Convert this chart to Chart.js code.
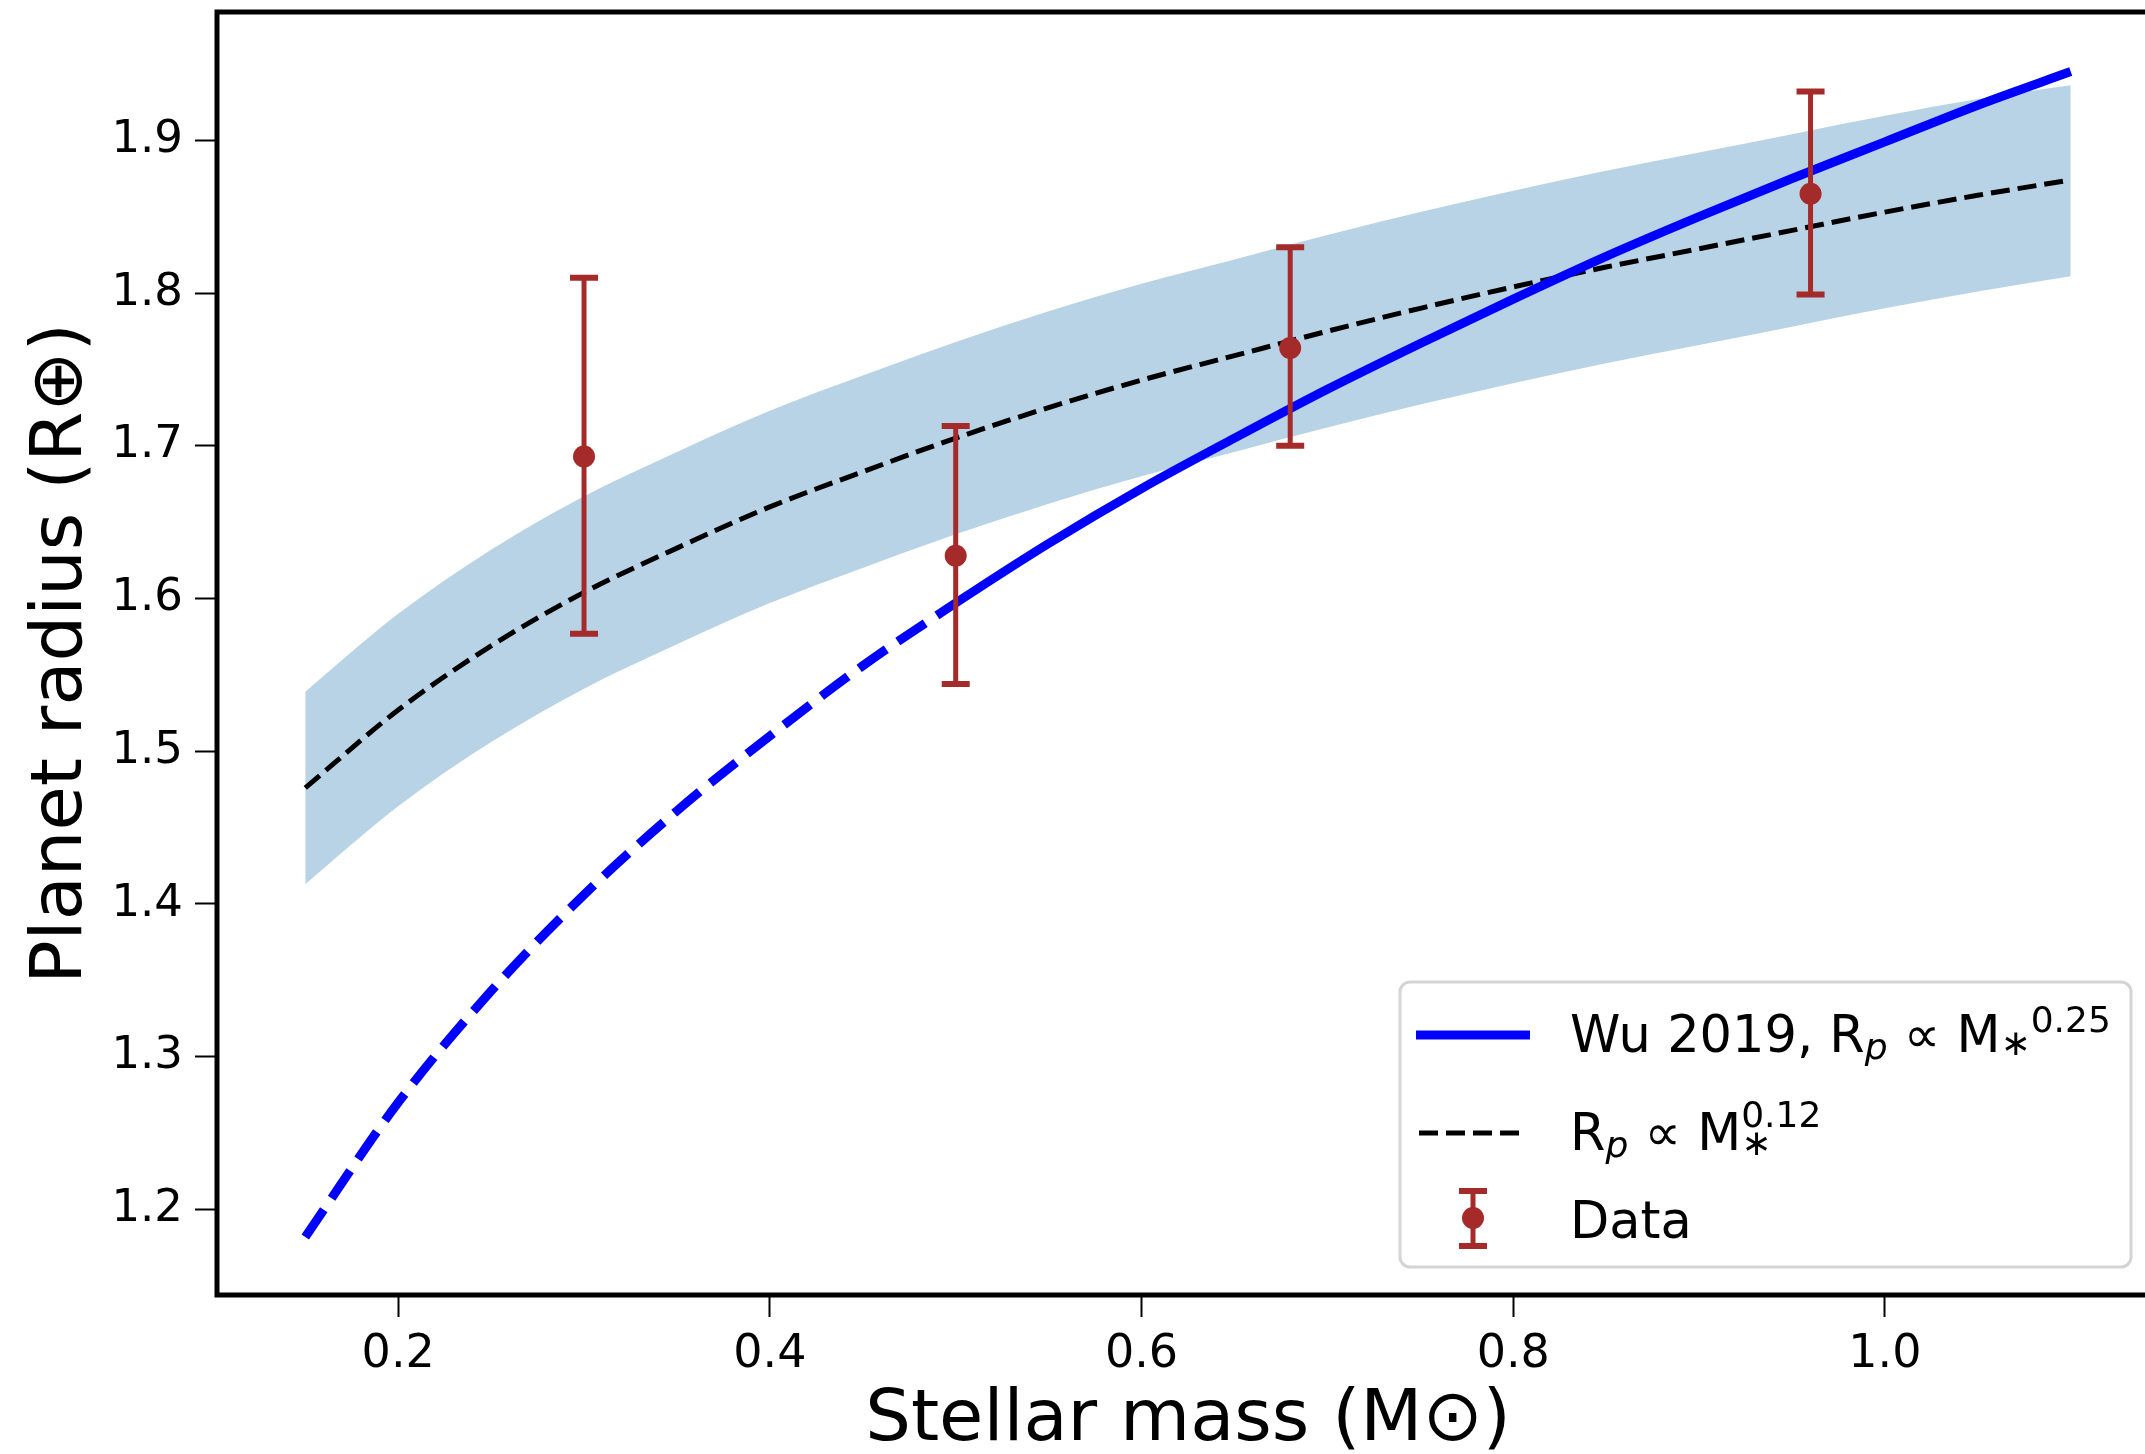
<!DOCTYPE html>
<html>
<head>
<meta charset="utf-8">
<script src="https://cdn.jsdelivr.net/npm/chart.js@4.4.1/dist/chart.umd.min.js"></script>
<style>
  html, body { margin: 0; padding: 0; background: #fff; overflow: hidden; }
  #wrap { width: 2200px; height: 1454px; }
</style>
</head>
<body>
<div id="wrap"><canvas id="radiusChart"></canvas></div>
<script>
// values
const massGrid = [0.15, 0.20, 0.25, 0.30, 0.35, 0.40, 0.45, 0.50, 0.55, 0.60, 0.65, 0.70, 0.75, 0.80, 0.85, 0.90, 0.95, 1.00, 1.05, 1.10];
const wuRadius = [1.182, 1.270, 1.343, 1.406, 1.461, 1.510, 1.556, 1.597, 1.636, 1.672, 1.705, 1.737, 1.767, 1.796, 1.824, 1.850, 1.875, 1.899, 1.923, 1.945];
const fitRadius = [1.476, 1.527, 1.569, 1.604, 1.633, 1.660, 1.683, 1.705, 1.725, 1.743, 1.759, 1.775, 1.790, 1.804, 1.817, 1.829, 1.841, 1.853, 1.864, 1.874];
const bandUpper = [1.539, 1.590, 1.632, 1.667, 1.696, 1.723, 1.746, 1.768, 1.788, 1.806, 1.822, 1.838, 1.853, 1.867, 1.880, 1.892, 1.904, 1.916, 1.927, 1.936];
const bandLower = [1.413, 1.464, 1.506, 1.541, 1.570, 1.597, 1.620, 1.642, 1.662, 1.680, 1.696, 1.712, 1.727, 1.741, 1.754, 1.766, 1.778, 1.790, 1.801, 1.811];

const dataMass = [0.30, 0.50, 0.68, 0.96];
const dataRadius = [1.693, 1.628, 1.764, 1.865];
const dataErrHi = [1.810, 1.713, 1.830, 1.932];
const dataErrLo = [1.577, 1.544, 1.700, 1.799];

const xTicks = [0.2, 0.4, 0.6, 0.8, 1.0];
const yTicks = [1.2, 1.3, 1.4, 1.5, 1.6, 1.7, 1.8, 1.9];

const FONT = '"DejaVu Sans", "Liberation Sans", sans-serif';
const dataColor = '#a52a2a';
const blueDash = [33, 14];
const blackDash = [19, 8];

function pts(xs, ys) {
  return xs.map((x, i) => ({ x: x, y: ys[i] }));
}

// error bars go under the data dots
const errorBarPlugin = {
  id: 'errorBars',
  beforeDatasetDraw(chart, args) {
    if (chart.data.datasets[args.index].label !== 'Data') return;
    const ctx = chart.ctx;
    const xs = chart.scales.x, ys = chart.scales.y;
    ctx.save();
    ctx.strokeStyle = dataColor;
    for (let i = 0; i < dataMass.length; i++) {
      const px = xs.getPixelForValue(dataMass[i]);
      const top = ys.getPixelForValue(dataErrHi[i]);
      const bot = ys.getPixelForValue(dataErrLo[i]);
      ctx.lineWidth = 5;
      ctx.beginPath();
      ctx.moveTo(px, top);
      ctx.lineTo(px, bot);
      ctx.stroke();
      ctx.lineWidth = 6;
      ctx.beginPath();
      ctx.moveTo(px - 14, top);
      ctx.lineTo(px + 14, top);
      ctx.moveTo(px - 14, bot);
      ctx.lineTo(px + 14, bot);
      ctx.stroke();
    }
    ctx.restore();
  }
};

// full box around the axes
const framePlugin = {
  id: 'frame',
  afterDatasetsDraw(chart) {
    const a = chart.chartArea, ctx = chart.ctx;
    ctx.save();
    ctx.strokeStyle = '#000';
    ctx.lineWidth = 5;
    ctx.strokeRect(a.left, a.top, a.right - a.left, a.bottom - a.top);
    ctx.restore();
  }
};

function drawParts(ctx, parts, x, base) {
  let cx = x;
  parts.forEach(p => {
    if (p.stack) {
      let w = 0;
      p.stack.forEach(s => {
        ctx.font = (s.italic ? 'italic ' : '') + s.size + 'px ' + FONT;
        ctx.fillText(s.t, cx, base + s.dy);
        w = Math.max(w, ctx.measureText(s.t).width);
      });
      cx += w;
      return;
    }
    ctx.font = (p.italic ? 'italic ' : '') + (p.size || 51) + 'px ' + FONT;
    ctx.fillText(p.t, cx, base + (p.dy || 0));
    cx += ctx.measureText(p.t).width;
  });
}

const legendPlugin = {
  id: 'boxLegend',
  afterDraw(chart) {
    const ctx = chart.ctx;
    ctx.save();
    // frame
    const bx = 1400, by = 982, bw = 731, bh = 285, r = 10;
    ctx.beginPath();
    ctx.roundRect(bx, by, bw, bh, r);
    ctx.fillStyle = 'rgba(255,255,255,0.85)';
    ctx.fill();
    ctx.strokeStyle = '#d4d4d4';
    ctx.lineWidth = 3;
    ctx.stroke();

    // handles
    ctx.strokeStyle = '#0000ff';
    ctx.lineWidth = 9;
    ctx.beginPath();
    ctx.moveTo(1416, 1035);
    ctx.lineTo(1530, 1035);
    ctx.stroke();

    ctx.strokeStyle = '#000';
    ctx.lineWidth = 5;
    ctx.setLineDash(blackDash);
    ctx.beginPath();
    ctx.moveTo(1419, 1133);
    ctx.lineTo(1527, 1133);
    ctx.stroke();
    ctx.setLineDash([]);

    ctx.strokeStyle = dataColor;
    ctx.fillStyle = dataColor;
    ctx.lineWidth = 5;
    ctx.beginPath();
    ctx.moveTo(1473, 1191);
    ctx.lineTo(1473, 1246);
    ctx.stroke();
    ctx.lineWidth = 6;
    ctx.beginPath();
    ctx.moveTo(1459, 1191); ctx.lineTo(1487, 1191);
    ctx.moveTo(1459, 1246); ctx.lineTo(1487, 1246);
    ctx.stroke();
    ctx.beginPath();
    ctx.arc(1473, 1218, 11, 0, Math.PI * 2);
    ctx.fill();

    // labels
    ctx.fillStyle = '#000';
    ctx.textBaseline = 'alphabetic';
    ctx.textAlign = 'left';
    drawParts(ctx, [
      { t: 'Wu 2019, R' },
      { t: 'p', size: 36, italic: true, dy: 7 },
      { t: ' \u221d M' },
      { t: '\u2217', size: 36, dy: 3 },
      { t: '0.25', size: 36, dy: -20 }
    ], 1570, 1052);
    drawParts(ctx, [
      { t: 'R' },
      { t: 'p', size: 36, italic: true, dy: 7 },
      { t: ' \u221d M' },
      { stack: [ { t: '0.12', size: 36, dy: -23 }, { t: '\u2217', size: 36, dy: 5 } ] }
    ], 1570, 1150);
    drawParts(ctx, [ { t: 'Data' } ], 1570, 1238);
    ctx.restore();
  }
};

const ctx = document.getElementById('radiusChart').getContext('2d');
const myChart = new Chart(ctx, {
  type: 'scatter',
  data: {
    datasets: [
      {
        label: 'band',
        data: pts(massGrid, bandUpper),
        showLine: true,
        fill: '+1',
        backgroundColor: '#b9d3e6',
        borderWidth: 0,
        pointRadius: 0,
        cubicInterpolationMode: 'monotone',
        order: 4
      },
      {
        label: 'band low',
        data: pts(massGrid, bandLower),
        showLine: true,
        fill: false,
        borderWidth: 0,
        pointRadius: 0,
        cubicInterpolationMode: 'monotone',
        order: 5
      },
      {
        label: 'Rp \u221d M*^0.12',
        data: pts(massGrid, fitRadius),
        showLine: true,
        borderColor: '#000',
        borderWidth: 5,
        borderDash: blackDash,
        pointRadius: 0,
        cubicInterpolationMode: 'monotone',
        order: 3
      },
      {
        label: 'Wu 2019, Rp \u221d M*^0.25',
        data: pts(massGrid, wuRadius),
        showLine: true,
        borderColor: '#0000ff',
        borderWidth: 9,
        pointRadius: 0,
        cubicInterpolationMode: 'monotone',
        segment: {
          borderDash: c => (c.p1.parsed.x <= 0.5001 ? blueDash : undefined)
        },
        order: 2
      },
      {
        label: 'Data',
        data: pts(dataMass, dataRadius),
        pointRadius: 11,
        pointHoverRadius: 11,
        pointBackgroundColor: dataColor,
        pointBorderColor: dataColor,
        pointBorderWidth: 0,
        order: 1
      }
    ]
  },
  options: {
    responsive: true,
    maintainAspectRatio: false,
    animation: false,
    devicePixelRatio: 1,
    layout: { padding: { left: 0, top: 12, right: 41, bottom: 0 } },
    plugins: {
      legend: { display: false },
      tooltip: { enabled: false }
    },
    scales: {
      x: {
        type: 'linear',
        min: 0.1025,
        max: 1.1475,
        afterBuildTicks: s => { s.ticks = xTicks.map(v => ({ value: v })); },
        afterFit: s => { s.height = 159; s.paddingLeft = 0; s.paddingRight = 0; },
        border: { display: false },
        grid: { display: true, drawOnChartArea: false, drawTicks: true, tickLength: 22, tickWidth: 2, tickColor: '#000' },
        ticks: {
          color: '#000',
          font: { family: FONT, size: 46 },
          padding: 10,
          maxRotation: 0,
          autoSkip: false,
          callback: v => v.toFixed(1)
        },
        title: {
          display: true,
          text: 'Stellar mass (M\u2299)',
          color: '#000',
          font: { family: FONT, size: 72, lineHeight: 0.92 },
          padding: { top: 0, bottom: 0 }
        }
      },
      y: {
        type: 'linear',
        min: 1.144,
        max: 1.984,
        afterBuildTicks: s => { s.ticks = yTicks.map(v => ({ value: v })); },
        afterFit: s => { s.width = 217; s.paddingTop = 0; s.paddingBottom = 0; },
        border: { display: false },
        grid: { display: true, drawOnChartArea: false, drawTicks: true, tickLength: 22, tickWidth: 2, tickColor: '#000' },
        ticks: {
          color: '#000',
          font: { family: FONT, size: 45 },
          padding: 12,
          autoSkip: false,
          callback: v => v.toFixed(1)
        },
        title: {
          display: true,
          text: 'Planet radius (R\u2295)',
          color: '#000',
          font: { family: FONT, size: 72, lineHeight: 1.0 },
          padding: { top: 26, bottom: 0 }
        }
      }
    }
  },
  plugins: [errorBarPlugin, framePlugin, legendPlugin]
});
</script>
</body>
</html>
